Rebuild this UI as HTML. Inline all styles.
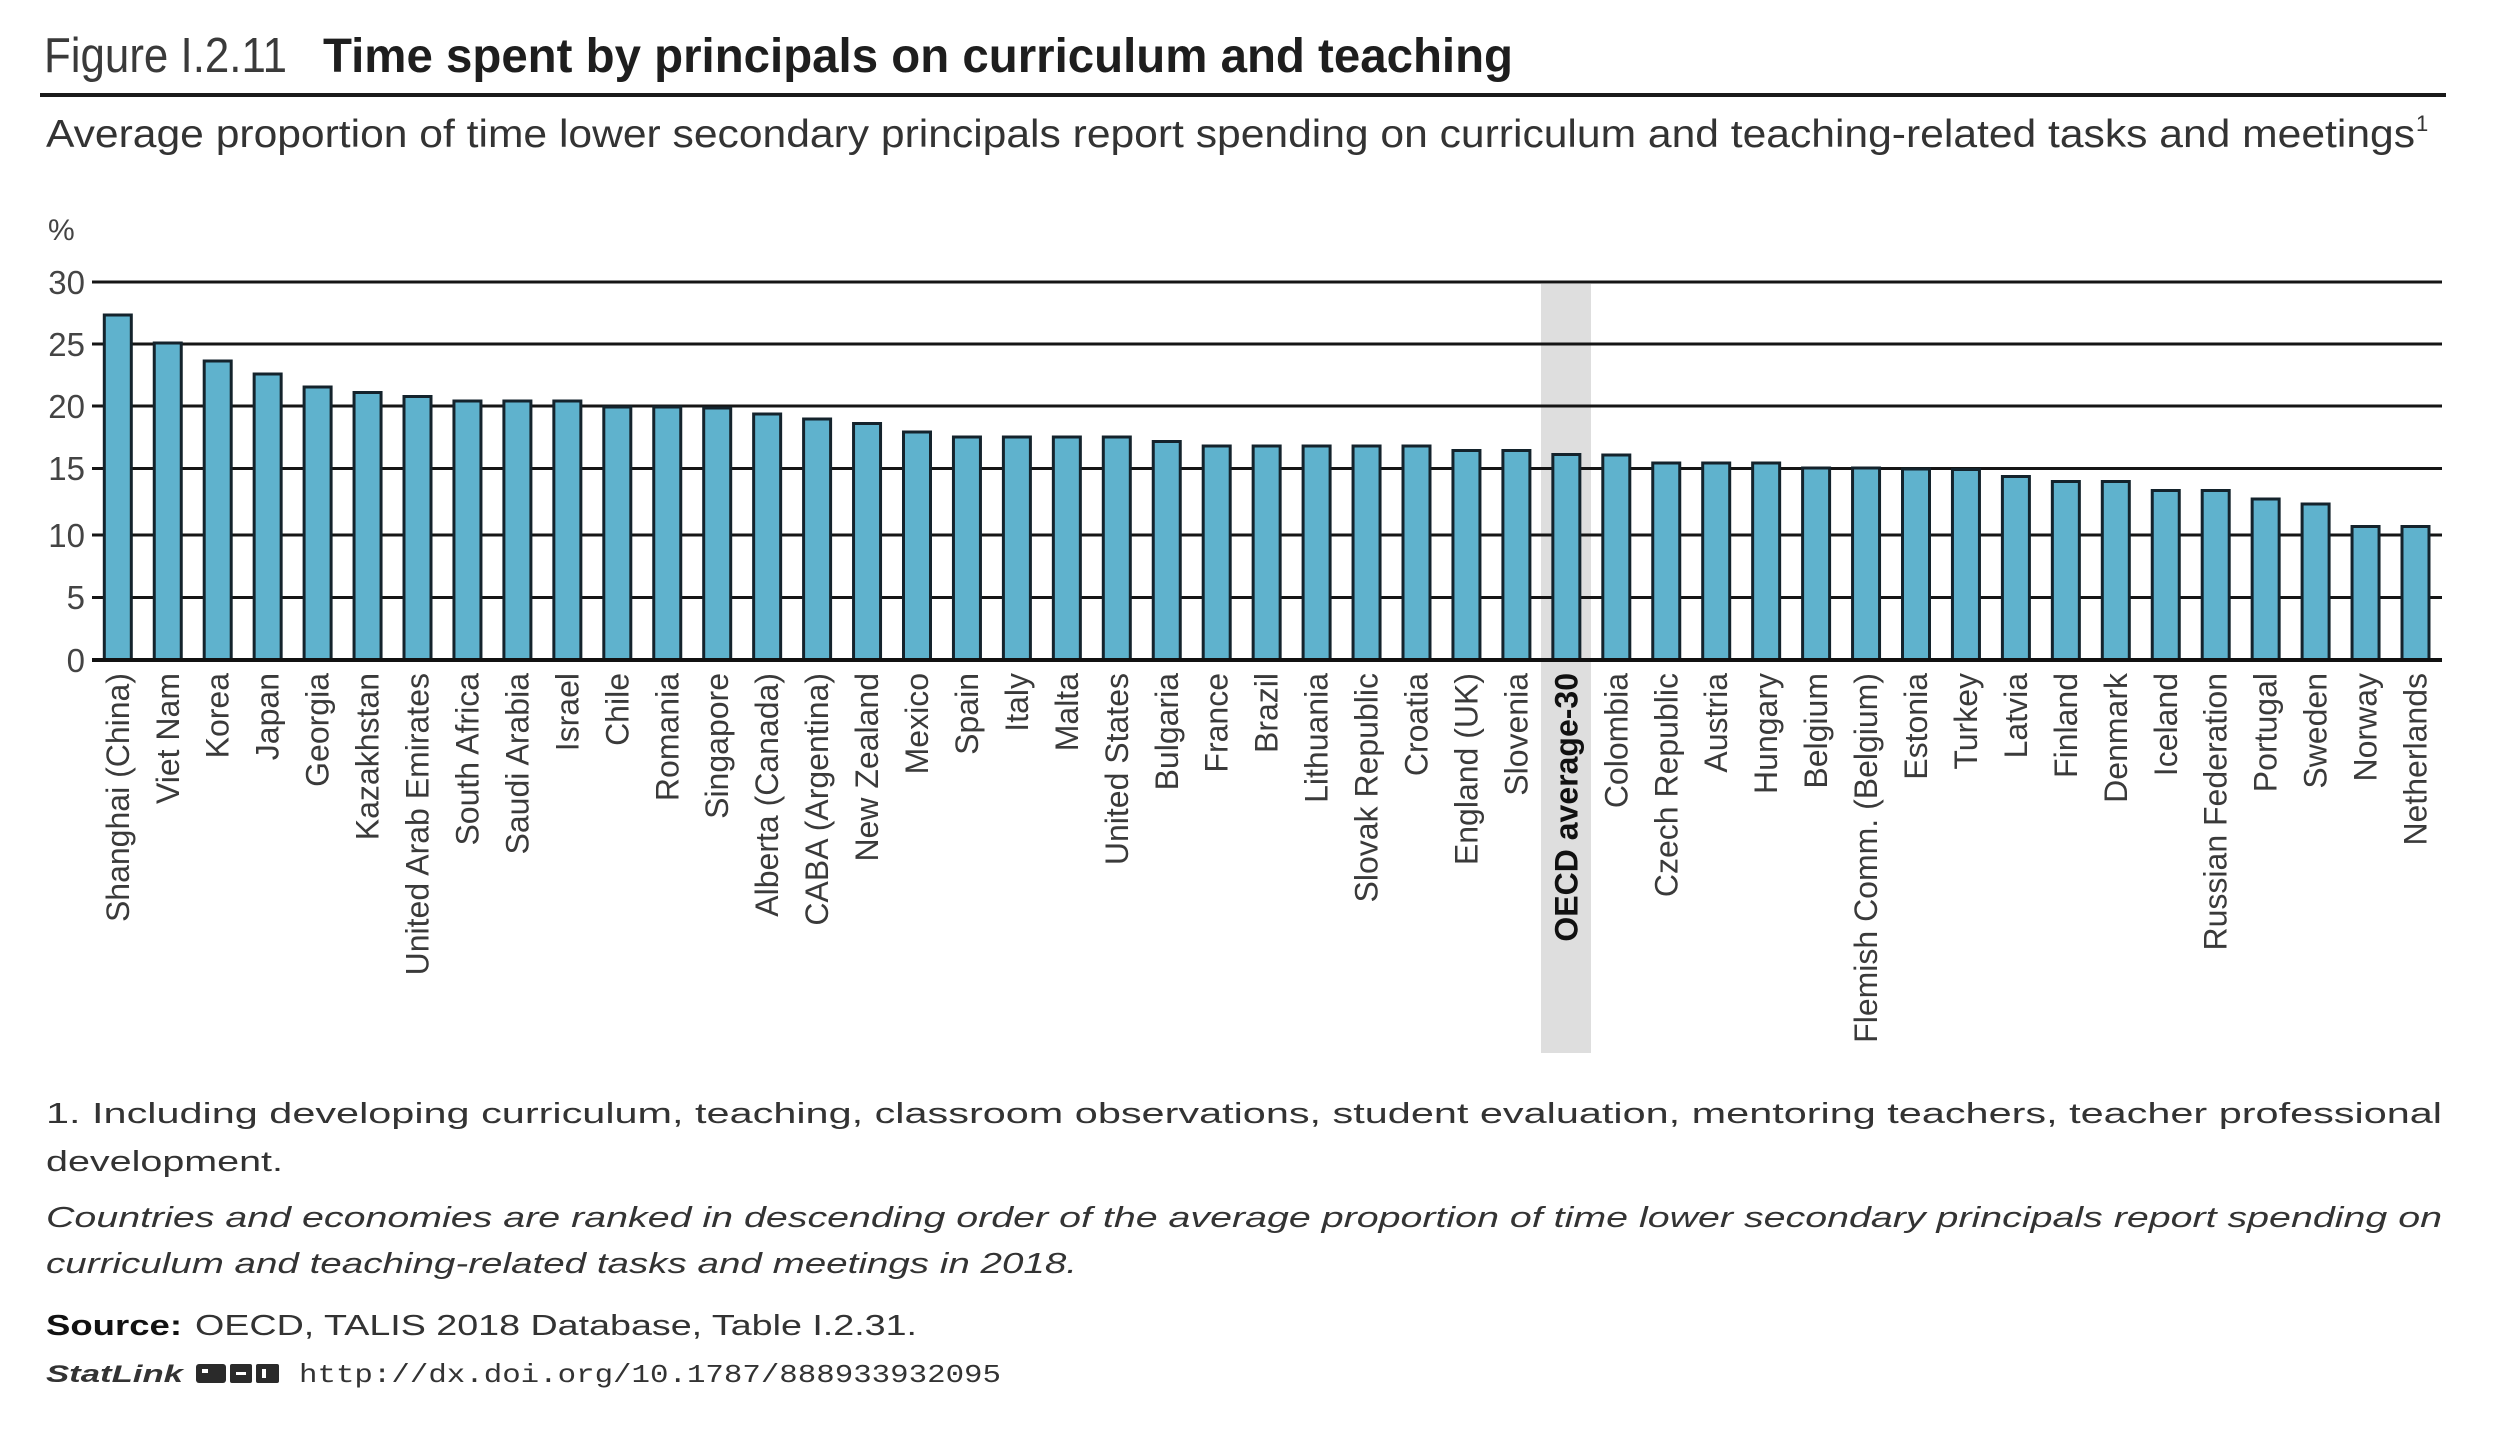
<!DOCTYPE html>
<html>
<head>
<meta charset="utf-8">
<style>
  html,body{margin:0;padding:0;background:#fff;}
  svg{display:block;}
  text{font-family:"Liberation Sans",Arial,sans-serif;}
</style>
</head>
<body>
<svg width="2500" height="1432" viewBox="0 0 2500 1432" xmlns="http://www.w3.org/2000/svg">
  <rect x="0" y="0" width="2500" height="1432" fill="#fff"/>

  <!-- Title -->
  <text x="44" y="72" font-size="49" fill="#3a3a3a" textLength="243" lengthAdjust="spacingAndGlyphs">Figure I.2.11</text>
  <text x="323" y="72" font-size="48" font-weight="bold" fill="#1e1e1e" textLength="1190" lengthAdjust="spacingAndGlyphs">Time spent by principals on curriculum and teaching</text>
  <rect x="40" y="93" width="2406" height="4" fill="#1a1a1a"/>

  <!-- Subtitle -->
  <text x="46" y="147" font-size="39" fill="#333" textLength="2369" lengthAdjust="spacingAndGlyphs">Average proportion of time lower secondary principals report spending on curriculum and teaching-related tasks and meetings</text>
  <text x="2416" y="131" font-size="22" fill="#333">1</text>

  <!-- y unit -->
  <text x="48" y="240" font-size="30" fill="#444">%</text>

  <!-- OECD band -->
  <rect x="1541" y="284" width="50" height="769" fill="#dedede"/>

  <!-- Gridlines -->
  <g fill="#151515">
    <rect x="92" y="280.5" width="2350" height="3"/>
    <rect x="92" y="342.5" width="2350" height="3"/>
    <rect x="92" y="404.5" width="2350" height="3"/>
    <rect x="92" y="467" width="2350" height="3"/>
    <rect x="92" y="533.5" width="2350" height="3"/>
    <rect x="92" y="596" width="2350" height="3"/>
  </g>

  <!-- Tick labels -->
  <g font-size="33" fill="#444" text-anchor="end">
    <text x="85" y="294">30</text>
    <text x="85" y="356">25</text>
    <text x="85" y="418">20</text>
    <text x="85" y="480">15</text>
    <text x="85" y="547">10</text>
    <text x="85" y="609">5</text>
    <text x="85" y="672">0</text>
  </g>

  <!-- Bars -->
  <g fill="#5fb2cd" stroke="#14232c" stroke-width="3">
    <rect x="104.3" y="315" width="27" height="345"/>
    <rect x="154.25" y="343" width="27" height="317"/>
    <rect x="204.2" y="361" width="27" height="299"/>
    <rect x="254.15" y="374" width="27" height="286"/>
    <rect x="304.1" y="387" width="27" height="273"/>
    <rect x="354.05" y="392.5" width="27" height="267.5"/>
    <rect x="404" y="396.5" width="27" height="263.5"/>
    <rect x="453.95" y="401" width="27" height="259"/>
    <rect x="503.9" y="401" width="27" height="259"/>
    <rect x="553.85" y="401" width="27" height="259"/>
    <rect x="603.8" y="407" width="27" height="253"/>
    <rect x="653.75" y="407" width="27" height="253"/>
    <rect x="703.7" y="408" width="27" height="252"/>
    <rect x="753.65" y="414" width="27" height="246"/>
    <rect x="803.6" y="419" width="27" height="241"/>
    <rect x="853.55" y="423.5" width="27" height="236.5"/>
    <rect x="903.5" y="432" width="27" height="228"/>
    <rect x="953.45" y="437" width="27" height="223"/>
    <rect x="1003.4" y="437" width="27" height="223"/>
    <rect x="1053.35" y="437" width="27" height="223"/>
    <rect x="1103.3" y="437" width="27" height="223"/>
    <rect x="1153.25" y="441.5" width="27" height="218.5"/>
    <rect x="1203.2" y="446" width="27" height="214"/>
    <rect x="1253.15" y="446" width="27" height="214"/>
    <rect x="1303.1" y="446" width="27" height="214"/>
    <rect x="1353.05" y="446" width="27" height="214"/>
    <rect x="1403" y="446" width="27" height="214"/>
    <rect x="1452.95" y="450.5" width="27" height="209.5"/>
    <rect x="1502.9" y="450.5" width="27" height="209.5"/>
    <rect x="1552.85" y="454.5" width="27" height="205.5"/>
    <rect x="1602.8" y="455" width="27" height="205"/>
    <rect x="1652.75" y="463" width="27" height="197"/>
    <rect x="1702.7" y="463" width="27" height="197"/>
    <rect x="1752.65" y="463" width="27" height="197"/>
    <rect x="1802.6" y="468" width="27" height="192"/>
    <rect x="1852.55" y="468" width="27" height="192"/>
    <rect x="1902.5" y="469" width="27" height="191"/>
    <rect x="1952.45" y="469.5" width="27" height="190.5"/>
    <rect x="2002.4" y="476.5" width="27" height="183.5"/>
    <rect x="2052.35" y="481.5" width="27" height="178.5"/>
    <rect x="2102.3" y="481.5" width="27" height="178.5"/>
    <rect x="2152.25" y="490.5" width="27" height="169.5"/>
    <rect x="2202.2" y="490.5" width="27" height="169.5"/>
    <rect x="2252.15" y="499" width="27" height="161"/>
    <rect x="2302.1" y="504" width="27" height="156"/>
    <rect x="2352.05" y="526.5" width="27" height="133.5"/>
    <rect x="2402" y="526.5" width="27" height="133.5"/>
  </g>

  <!-- Axis line -->
  <rect x="92" y="658" width="2350" height="4" fill="#111"/>

  <!-- Category labels -->
  <g font-size="32" fill="#3a3a3a" text-anchor="end">
    <text transform="translate(128.8,673) rotate(-90)">Shanghai (China)</text>
    <text transform="translate(178.75,673) rotate(-90)">Viet Nam</text>
    <text transform="translate(228.7,673) rotate(-90)">Korea</text>
    <text transform="translate(278.65,673) rotate(-90)">Japan</text>
    <text transform="translate(328.6,673) rotate(-90)">Georgia</text>
    <text transform="translate(378.55,673) rotate(-90)">Kazakhstan</text>
    <text transform="translate(428.5,673) rotate(-90)">United Arab Emirates</text>
    <text transform="translate(478.45,673) rotate(-90)">South Africa</text>
    <text transform="translate(528.4,673) rotate(-90)">Saudi Arabia</text>
    <text transform="translate(578.35,673) rotate(-90)">Israel</text>
    <text transform="translate(628.3,673) rotate(-90)">Chile</text>
    <text transform="translate(678.25,673) rotate(-90)">Romania</text>
    <text transform="translate(728.2,673) rotate(-90)">Singapore</text>
    <text transform="translate(778.15,673) rotate(-90)">Alberta (Canada)</text>
    <text transform="translate(828.1,673) rotate(-90)">CABA (Argentina)</text>
    <text transform="translate(878.05,673) rotate(-90)">New Zealand</text>
    <text transform="translate(928,673) rotate(-90)">Mexico</text>
    <text transform="translate(977.95,673) rotate(-90)">Spain</text>
    <text transform="translate(1027.9,673) rotate(-90)">Italy</text>
    <text transform="translate(1077.85,673) rotate(-90)">Malta</text>
    <text transform="translate(1127.8,673) rotate(-90)">United States</text>
    <text transform="translate(1177.75,673) rotate(-90)">Bulgaria</text>
    <text transform="translate(1227.7,673) rotate(-90)">France</text>
    <text transform="translate(1277.65,673) rotate(-90)">Brazil</text>
    <text transform="translate(1327.6,673) rotate(-90)">Lithuania</text>
    <text transform="translate(1377.55,673) rotate(-90)">Slovak Republic</text>
    <text transform="translate(1427.5,673) rotate(-90)">Croatia</text>
    <text transform="translate(1477.45,673) rotate(-90)">England (UK)</text>
    <text transform="translate(1527.4,673) rotate(-90)">Slovenia</text>
    <text transform="translate(1577.35,673) rotate(-90)" font-weight="bold" fill="#111">OECD average-30</text>
    <text transform="translate(1627.3,673) rotate(-90)">Colombia</text>
    <text transform="translate(1677.25,673) rotate(-90)">Czech Republic</text>
    <text transform="translate(1727.2,673) rotate(-90)">Austria</text>
    <text transform="translate(1777.15,673) rotate(-90)">Hungary</text>
    <text transform="translate(1827.1,673) rotate(-90)">Belgium</text>
    <text transform="translate(1877.05,673) rotate(-90)">Flemish Comm. (Belgium)</text>
    <text transform="translate(1927,673) rotate(-90)">Estonia</text>
    <text transform="translate(1976.95,673) rotate(-90)">Turkey</text>
    <text transform="translate(2026.9,673) rotate(-90)">Latvia</text>
    <text transform="translate(2076.85,673) rotate(-90)">Finland</text>
    <text transform="translate(2126.8,673) rotate(-90)">Denmark</text>
    <text transform="translate(2176.75,673) rotate(-90)">Iceland</text>
    <text transform="translate(2226.7,673) rotate(-90)">Russian Federation</text>
    <text transform="translate(2276.65,673) rotate(-90)">Portugal</text>
    <text transform="translate(2326.6,673) rotate(-90)">Sweden</text>
    <text transform="translate(2376.55,673) rotate(-90)">Norway</text>
    <text transform="translate(2426.5,673) rotate(-90)">Netherlands</text>
  </g>

  <!-- Notes -->
  <g font-size="29" fill="#333">
    <text x="46" y="1123" textLength="2396" lengthAdjust="spacingAndGlyphs">1. Including developing curriculum, teaching, classroom observations, student evaluation, mentoring teachers, teacher professional</text>
    <text x="46" y="1171" textLength="237" lengthAdjust="spacingAndGlyphs">development.</text>
    <text x="46" y="1227" font-style="italic" textLength="2396" lengthAdjust="spacingAndGlyphs">Countries and economies are ranked in descending order of the average proportion of time lower secondary principals report spending on</text>
    <text x="46" y="1273" font-style="italic" textLength="1031" lengthAdjust="spacingAndGlyphs">curriculum and teaching-related tasks and meetings in 2018.</text>
    <text x="46" y="1335" font-weight="bold" fill="#111" textLength="136" lengthAdjust="spacingAndGlyphs">Source:</text>
    <text x="195" y="1335" textLength="722" lengthAdjust="spacingAndGlyphs">OECD, TALIS 2018 Database, Table I.2.31.</text>
  </g>

  <!-- StatLink -->
  <text x="46" y="1382" font-size="24" font-weight="bold" font-style="italic" fill="#333" textLength="137" lengthAdjust="spacingAndGlyphs">StatLink</text>
  <g fill="#2a2a2a">
    <rect x="196" y="1364" width="30" height="19" rx="3"/>
    <rect x="230" y="1364" width="22" height="19" rx="2"/>
    <rect x="256" y="1364" width="23" height="19" rx="2"/>
  </g>
  <g fill="#fff">
    <rect x="202" y="1369" width="6" height="4"/>
    <rect x="236" y="1372" width="10" height="3"/>
    <rect x="262" y="1369" width="4" height="9"/>
  </g>
  <text x="299" y="1382" font-size="26" fill="#333" textLength="702" lengthAdjust="spacingAndGlyphs" style="font-family:'Liberation Mono',monospace">http://dx.doi.org/10.1787/888933932095</text>
</svg>
</body>
</html>
